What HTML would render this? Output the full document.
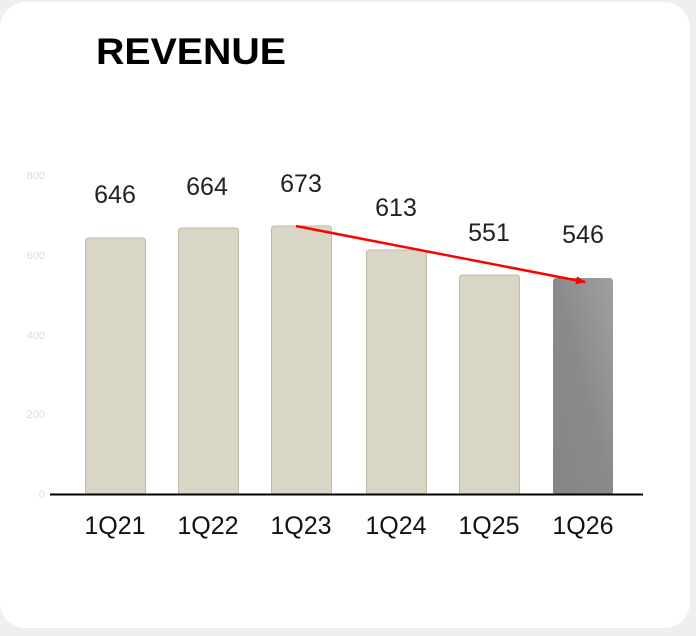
<!DOCTYPE html>
<html><head><style>
body{margin:0;background:#efefef;width:696px;height:636px;overflow:hidden;font-family:"Liberation Sans",sans-serif}
.card{position:absolute;left:0;top:2px;width:690px;height:626px;background:#fff;border-radius:26px}
</style></head><body>
<div class="card"></div>
<svg width="696" height="636" style="position:absolute;left:0;top:0" font-family="Liberation Sans, sans-serif">
<defs><linearGradient id="g" x1="1" y1="0" x2="0" y2="1"><stop offset="0" stop-color="#a0a0a0"/><stop offset="0.5" stop-color="#8a8a8a"/><stop offset="1" stop-color="#858585"/></linearGradient>
<marker id="a" markerWidth="10" markerHeight="8" refX="9" refY="4" orient="auto" markerUnits="userSpaceOnUse" viewBox="0 0 10 8"><path d="M0,0L10,4L0,8z" fill="#f00"/></marker></defs>
<text x="96" y="64" font-size="37" font-weight="bold" fill="#000" textLength="190" lengthAdjust="spacingAndGlyphs">REVENUE</text>
<g font-size="11" fill="#ddd" text-anchor="end"><text x="45" y="179">800</text><text x="45" y="259">600</text><text x="45" y="339">400</text><text x="45" y="418">200</text><text x="45" y="498">0</text></g>
<g fill="#d9d6c6" stroke="#bdbaa8" stroke-width="1">
<rect x="85.5" y="238" width="60" height="257" rx="3"/>
<rect x="178.5" y="228" width="60" height="267" rx="3"/>
<rect x="271.5" y="226" width="60" height="269" rx="3"/>
<rect x="366.5" y="250" width="60" height="245" rx="3"/>
<rect x="459.5" y="275" width="60" height="220" rx="3"/>
</g>
<rect x="553" y="278" width="60" height="217" rx="3" fill="url(#g)"/>
<line x1="50" y1="494.5" x2="643" y2="494.5" stroke="#000" stroke-width="2"/>
<g font-size="25" fill="#222" text-anchor="middle" stroke="#fff" stroke-width="4" paint-order="stroke">
<text x="115" y="203">646</text><text x="207" y="195">664</text><text x="301" y="192">673</text><text x="396" y="216">613</text><text x="489" y="241">551</text><text x="583" y="243">546</text></g>
<g font-size="25" fill="#111" text-anchor="middle">
<text x="115" y="534">1Q21</text><text x="208" y="534">1Q22</text><text x="301" y="534">1Q23</text><text x="396" y="534">1Q24</text><text x="489" y="534">1Q25</text><text x="583" y="534">1Q26</text></g>
<line x1="296" y1="226" x2="585" y2="282" stroke="#f00" stroke-width="2.5" marker-end="url(#a)"/>
</svg>
</body></html>
